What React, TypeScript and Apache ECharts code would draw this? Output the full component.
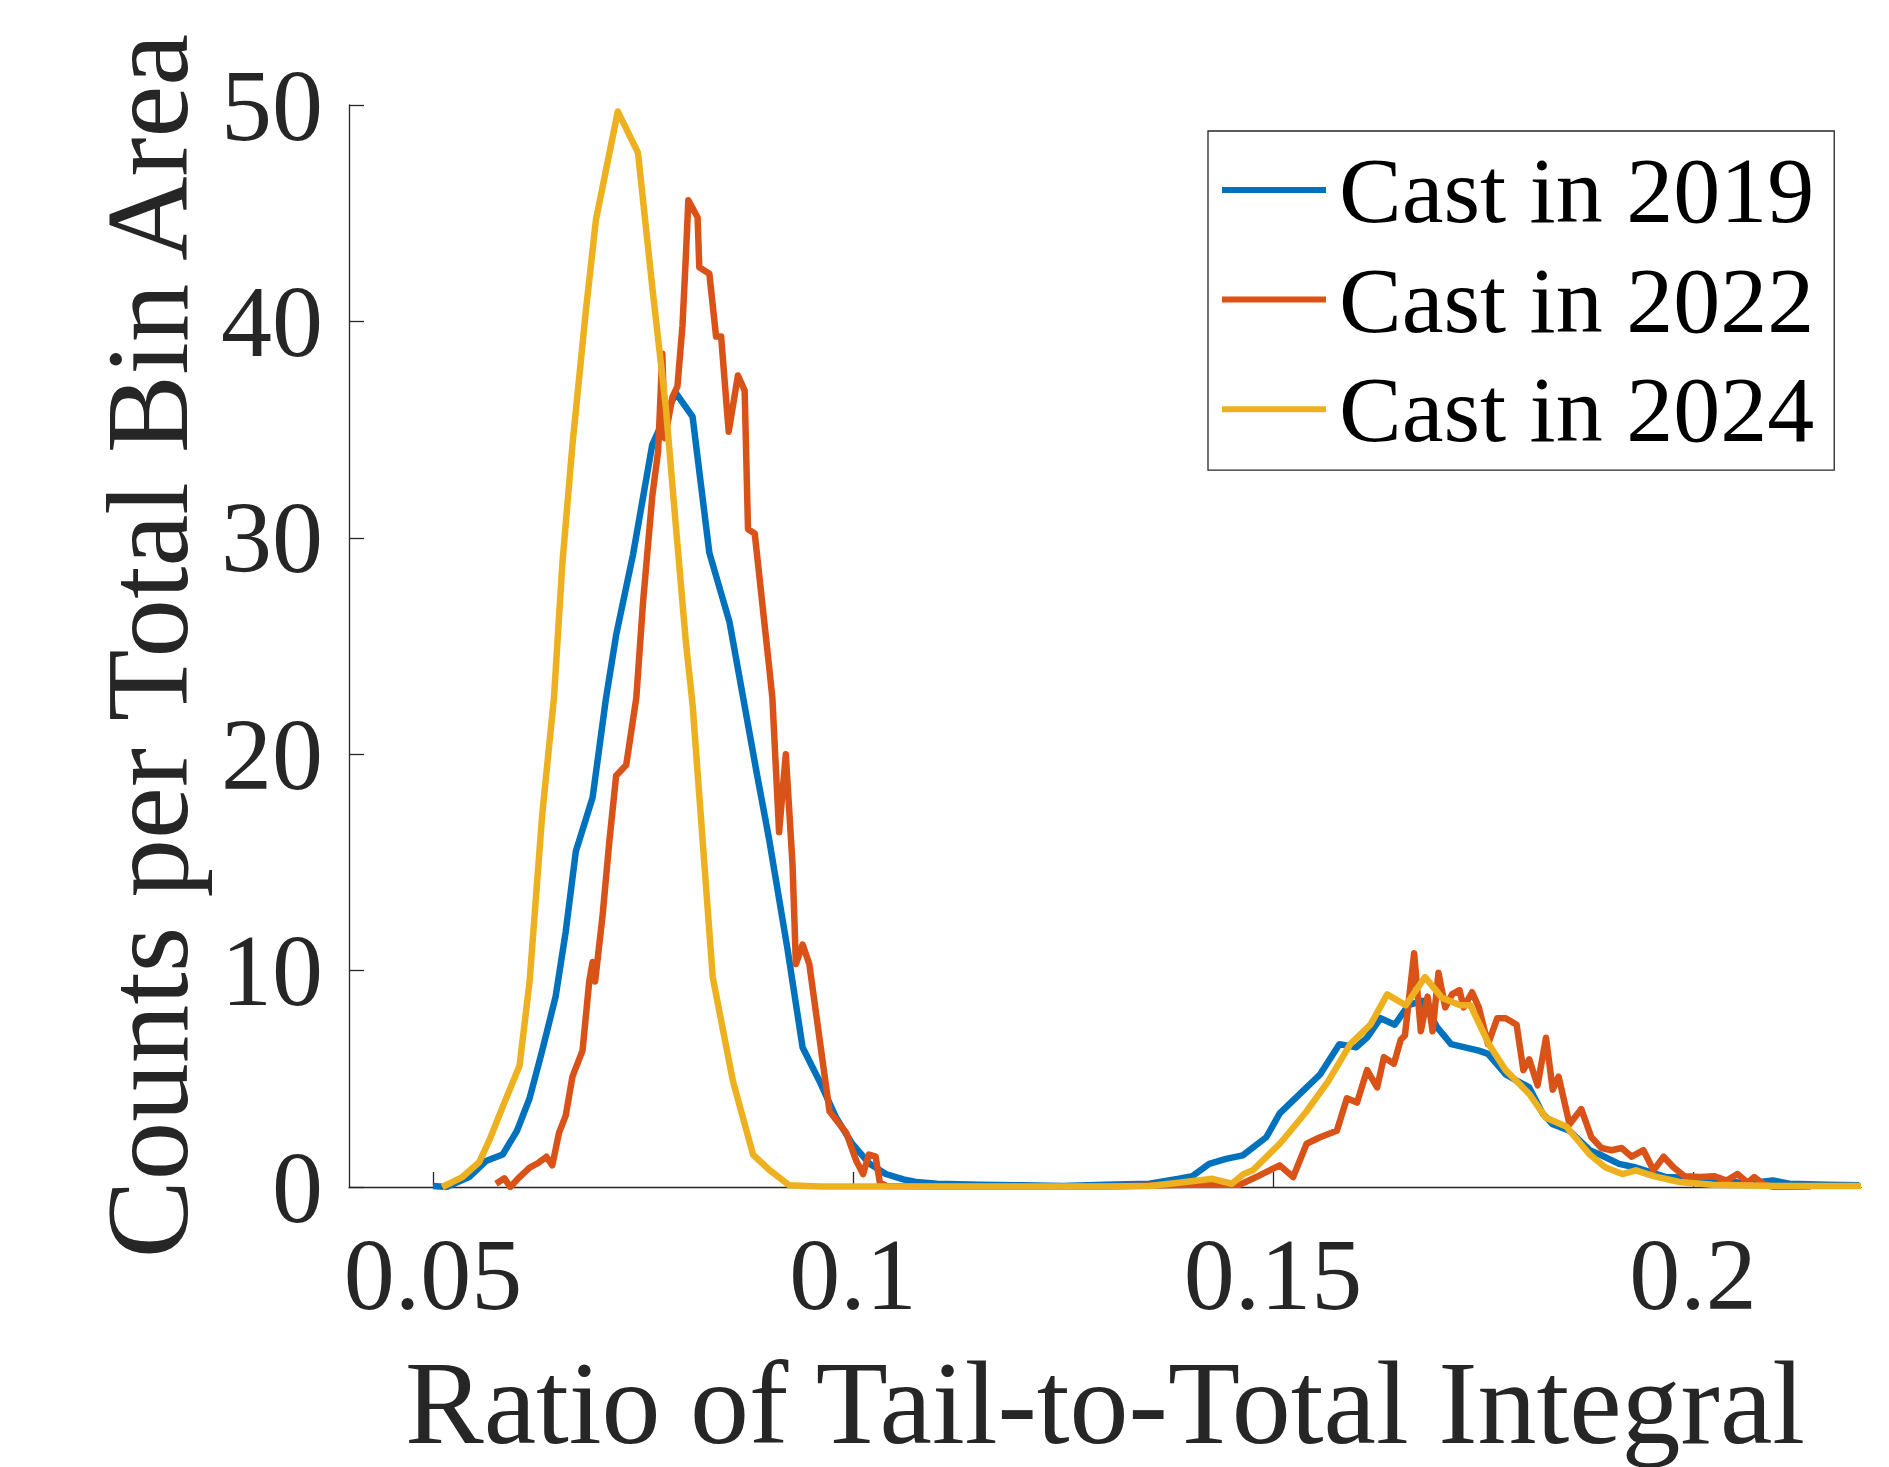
import React, { useEffect, useRef } from "react";
import * as echarts from "echarts";

const seriesNames = ["Cast in 2019", "Cast in 2022", "Cast in 2024"];
const seriesColors = ["#0072BD", "#D95319", "#EDB120"];
const xTickValues = [0.05, 0.1, 0.15, 0.2];
const xTitle = "Ratio of Tail-to-Total Integral";
const yTitle = "Counts per Total Bin Area";

const cast2019: [number, number][] = [
  [0.05, 0.05], [0.0516, 0.0], [0.0543, 0.46], [0.0563, 1.2], [0.0583, 1.5],
  [0.06, 2.6], [0.0615, 4.1], [0.063, 6.3], [0.0646, 8.8], [0.0658, 11.8],
  [0.067, 15.5], [0.069, 18.0], [0.0706, 22.6], [0.0718, 25.5], [0.0738, 29.2],
  [0.0761, 34.3], [0.0789, 36.7], [0.0809, 35.6], [0.0829, 29.3], [0.0853, 26.1],
  [0.0886, 19.0], [0.09, 16.1], [0.0922, 11.0], [0.094, 6.45], [0.096, 4.9],
  [0.098, 3.2], [0.0999, 2.0], [0.1019, 1.1], [0.1039, 0.6], [0.106, 0.35],
  [0.1075, 0.23], [0.11, 0.15], [0.115, 0.1], [0.12, 0.08], [0.125, 0.05],
  [0.13, 0.1], [0.1353, 0.15], [0.1388, 0.38], [0.1404, 0.5], [0.1424, 1.07],
  [0.1444, 1.3], [0.1464, 1.46], [0.1492, 2.3], [0.1508, 3.4], [0.1532, 4.3],
  [0.1556, 5.2], [0.1579, 6.6], [0.1599, 6.45], [0.1612, 6.9], [0.1628, 7.8],
  [0.1645, 7.5], [0.1661, 8.4], [0.1678, 8.6], [0.1695, 7.4], [0.1712, 6.6],
  [0.1745, 6.3], [0.1756, 6.15], [0.1777, 5.2], [0.1805, 4.6], [0.1821, 3.4],
  [0.1833, 2.9], [0.1853, 2.6], [0.1877, 1.7], [0.1889, 1.5], [0.1912, 1.07],
  [0.1932, 0.9], [0.1968, 0.46], [0.2023, 0.38], [0.2063, 0.15], [0.2095, 0.3],
  [0.2115, 0.15], [0.216, 0.1], [0.2198, 0.08],
];

const cast2022: [number, number][] = [
  [0.0575, 0.15], [0.0585, 0.4], [0.0592, 0.0], [0.0603, 0.46], [0.0615, 0.9],
  [0.0625, 1.1], [0.0635, 1.4], [0.0642, 1.0], [0.065, 2.5], [0.0658, 3.3],
  [0.0666, 5.1], [0.0678, 6.3], [0.0686, 9.5], [0.069, 10.4], [0.0693, 9.5],
  [0.0702, 12.6], [0.071, 16.0], [0.0718, 19.0], [0.073, 19.5], [0.0742, 22.6],
  [0.075, 27.0], [0.0761, 31.9], [0.0768, 34.0], [0.0773, 38.5], [0.0776, 34.6],
  [0.0785, 36.5], [0.0791, 37.0], [0.0797, 39.8], [0.0801, 43.0], [0.0804, 45.6],
  [0.0815, 44.8], [0.0817, 42.5], [0.0829, 42.2], [0.0837, 39.3], [0.0843, 39.3],
  [0.0852, 34.9], [0.0863, 37.5], [0.0871, 36.8], [0.0875, 30.4], [0.0883, 30.2],
  [0.09, 24.1], [0.0904, 22.6], [0.0912, 16.4], [0.092, 20.0], [0.0928, 14.9],
  [0.0932, 10.3], [0.094, 11.2], [0.0948, 10.3], [0.096, 6.9], [0.0972, 3.5],
  [0.0992, 2.5], [0.1004, 1.2], [0.1012, 0.6], [0.1019, 1.5], [0.1027, 1.4],
  [0.1032, 0.2], [0.104, 0.05], [0.11, 0.02], [0.12, 0.02], [0.13, 0.02],
  [0.14, 0.1], [0.146, 0.1], [0.148, 0.46], [0.1508, 1.0], [0.1524, 0.46],
  [0.154, 2.0], [0.1556, 2.3], [0.1576, 2.6], [0.1588, 4.1], [0.16, 3.9],
  [0.1612, 5.4], [0.1624, 4.6], [0.1632, 6.0], [0.1644, 5.7], [0.1652, 6.8],
  [0.1657, 7.0], [0.1668, 10.8], [0.1676, 7.2], [0.1684, 8.8], [0.169, 7.2],
  [0.1697, 9.9], [0.1705, 8.3], [0.1713, 8.9], [0.1722, 9.1], [0.1727, 8.3],
  [0.1737, 9.0], [0.1745, 8.3], [0.1756, 6.6], [0.1767, 7.8], [0.1777, 7.8],
  [0.179, 7.5], [0.1798, 5.4], [0.1805, 5.9], [0.1815, 4.7], [0.1825, 6.9],
  [0.1833, 4.5], [0.184, 5.1], [0.1853, 2.9], [0.1867, 3.6], [0.1879, 2.3],
  [0.1891, 1.8], [0.1903, 1.7], [0.1915, 1.8], [0.1927, 1.4], [0.1941, 1.7],
  [0.1953, 0.77], [0.1965, 1.4], [0.1977, 0.9], [0.199, 0.5], [0.2009, 0.46],
  [0.2025, 0.5], [0.204, 0.3], [0.2053, 0.6], [0.2065, 0.2], [0.2073, 0.46],
  [0.2085, 0.1], [0.2097, 0.0], [0.214, 0.02],
];

const cast2024: [number, number][] = [
  [0.0511, 0.0], [0.0535, 0.46], [0.0555, 1.15], [0.0567, 2.15], [0.0585, 3.9],
  [0.0603, 5.6], [0.0615, 9.5], [0.063, 17.2], [0.0644, 22.6], [0.0654, 28.8],
  [0.0666, 34.3], [0.0682, 40.5], [0.0694, 44.7], [0.072, 49.7], [0.0744, 47.8],
  [0.0761, 41.6], [0.0777, 36.1], [0.0789, 30.6], [0.0801, 25.2], [0.0809, 22.3],
  [0.0833, 9.7], [0.0857, 4.9], [0.0881, 1.5], [0.09, 0.8], [0.0924, 0.08],
  [0.096, 0.02], [0.11, 0.02], [0.12, 0.02], [0.13, 0.02], [0.1353, 0.05],
  [0.1388, 0.2], [0.1428, 0.38], [0.1451, 0.15], [0.1465, 0.6], [0.1476, 0.77],
  [0.1508, 2.0], [0.1521, 2.6], [0.154, 3.5], [0.1566, 4.9], [0.1592, 6.6],
  [0.1616, 7.5], [0.1636, 8.9], [0.1658, 8.4], [0.1681, 9.7], [0.1701, 8.75],
  [0.1723, 8.4], [0.1735, 8.4], [0.1757, 6.6], [0.1777, 5.4], [0.1805, 4.3],
  [0.1825, 3.2], [0.1849, 2.8], [0.1877, 1.5], [0.1896, 0.9], [0.1916, 0.6],
  [0.1932, 0.77], [0.1953, 0.5], [0.1984, 0.23], [0.2023, 0.1], [0.21, 0.05],
  [0.22, 0.05],
];

const seriesData = [cast2019, cast2022, cast2024];

const FONT = "'Liberation Serif', 'Times New Roman', serif";
const AXIS_COLOR = "#262626";
const LINE_W = 6.5;

export default function App() {
  const ref = useRef<HTMLDivElement>(null);

  useEffect(() => {
    if (!ref.current) return;
    const chart = echarts.init(ref.current, undefined, { renderer: "svg" });
    chart.setOption({
      animation: false,
      backgroundColor: "#ffffff",
      grid: { left: 349, right: 28, top: 105, bottom: 277, containLabel: false },
      legend: {
        orient: "vertical",
        left: 1208,
        top: 131,
        padding: [12, 20, 14, 14],
        icon: "rect",
        itemWidth: 104,
        itemHeight: 6,
        itemGap: 15.6,
        borderColor: AXIS_COLOR,
        borderWidth: 1.3,
        backgroundColor: "#ffffff",
        data: seriesNames,
        textStyle: {
          fontFamily: FONT,
          fontSize: 94,
          lineHeight: 94,
          color: "#000000",
          padding: [0, 0, 0, 8],
        },
      },
      xAxis: {
        type: "value",
        min: 0.04,
        max: 0.22,
        name: xTitle,
        nameLocation: "middle",
        nameGap: 157,
        nameTextStyle: { fontFamily: FONT, fontSize: 118, color: AXIS_COLOR },
        axisLine: { show: true, onZero: false, lineStyle: { color: AXIS_COLOR, width: 1.3 } },
        axisTick: {
          show: true,
          inside: true,
          length: 15,
          customValues: xTickValues,
          lineStyle: { color: AXIS_COLOR, width: 1.3 },
        },
        axisLabel: {
          customValues: xTickValues,
          margin: 36,
          fontFamily: FONT,
          fontSize: 102,
          color: AXIS_COLOR,
        },
        splitLine: { show: false },
      },
      yAxis: {
        type: "value",
        min: 0,
        max: 50,
        interval: 10,
        name: yTitle,
        nameLocation: "middle",
        nameGap: 143,
        nameTextStyle: { fontFamily: FONT, fontSize: 117, color: AXIS_COLOR },
        axisLine: { show: true, lineStyle: { color: AXIS_COLOR, width: 1.3 } },
        axisTick: { show: true, inside: true, length: 15, lineStyle: { color: AXIS_COLOR, width: 1.3 } },
        axisLabel: { margin: 26, fontFamily: FONT, fontSize: 102, color: AXIS_COLOR },
        splitLine: { show: false },
      },
      series: seriesNames.map((name, i) => ({
        name,
        type: "line",
        data: seriesData[i],
        symbol: "none",
        showSymbol: false,
        clip: true,
        itemStyle: { color: seriesColors[i] },
        lineStyle: { color: seriesColors[i], width: LINE_W, join: "round" },
        z: 2 + i,
      })),
    });
    return () => chart.dispose();
  }, []);

  return (
    <div
      ref={ref}
      style={{ position: "absolute", left: 0, top: 0, width: 1889, height: 1467 }}
    />
  );
}
